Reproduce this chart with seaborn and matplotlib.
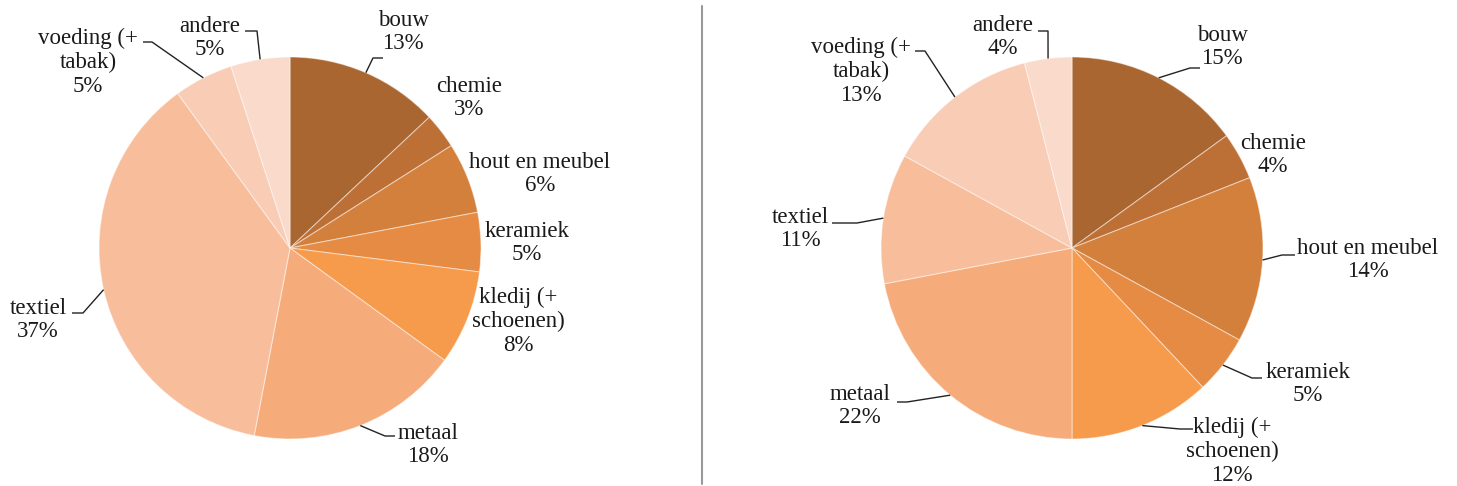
import numpy as np
import matplotlib
matplotlib.use("Agg")
import matplotlib.pyplot as plt
import seaborn as sns

# data
categories = ['bouw', 'chemie', 'hout en meubel', 'keramiek', 'kledij (+\nschoenen)',
              'metaal', 'textiel', 'voeding (+\ntabak)', 'andere']
left_values = [13, 3, 6, 5, 8, 18, 37, 5, 5]
right_values = [15, 4, 14, 5, 12, 22, 11, 13, 4]
colours = ['#A96630', '#BD7036', '#D2803C', '#E58B44', '#F69A4B',
           '#F6AB7B', '#F8BE9C', '#F8CCB5', '#FADACB']

# layout (pixel coords, y measured from the top)
W, H = 1457, 486
left_center, right_center = (290, 248), (1072, 248)
radius = 191
left_labels = [(403, 32), (469, 98), (540, 174), (527, 243), (518, 321),
               (428, 445), (38, 320), (88, 62), (210, 38)]
right_labels = [(1222, 47), (1273, 155), (1368, 260), (1308, 384), (1232, 451),
                (860, 406), (800, 229), (861, 71), (1003, 37)]
# leader: (start, elbow) near the label, None = no leader
left_leaders = [((383, 58), (373, 58)), None, None, None, None,
                ((395, 436), (385, 436)), ((72, 313), (83, 313)),
                ((143, 42), (152, 42)), ((245, 31), (257, 31))]
right_leaders = [((1200, 68), (1190, 68)), None, ((1295, 255), (1282, 255)),
                 ((1262, 378), (1252, 378)), ((1193, 429), (1180, 429)),
                 ((897, 402), (907, 402)), ((832, 223), (857, 223)),
                 ((915, 51), (925, 51)), ((1038, 31), (1048, 31))]

sns.set_theme(style="white")
plt.rcParams['font.family'] = ['Liberation Serif', 'DejaVu Serif']

fig = plt.figure(figsize=(W / 100, H / 100), dpi=100)
ax = fig.add_axes([0, 0, 1, 1])


def flip(p):
    return (p[0], H - p[1])


def draw_pie(values, center, labels, leaders):
    c = flip(center)
    ax.pie(values, colors=colours, startangle=90, counterclock=False,
           center=c, radius=radius,
           wedgeprops=dict(edgecolor=(1, 1, 1, 0.45), linewidth=0.8))
    total = float(sum(values))
    cum = np.cumsum([0] + list(values))
    for i, (name, v) in enumerate(zip(categories, values)):
        txt = f"{name}\n{v}%"
        ax.text(*flip(labels[i]), txt, ha='center', va='center', fontsize=16.5,
                color='#1a1a1a', linespacing=1.18)
        if leaders[i] is not None:
            mid = (cum[i] + v / 2) / total * 2 * np.pi
            edge = (c[0] + radius * np.sin(mid), c[1] + radius * np.cos(mid))
            s, e = flip(leaders[i][0]), flip(leaders[i][1])
            ax.plot([s[0], e[0], edge[0]], [s[1], e[1], edge[1]],
                    color='#222222', lw=1.0, solid_capstyle='butt')


draw_pie(left_values, left_center, left_labels, left_leaders)
draw_pie(right_values, right_center, right_labels, right_leaders)

# divider
ax.plot([702, 702], [H - 6, H - 484], color='#999999', lw=1.5)

ax.set_xlim(0, W)
ax.set_ylim(0, H)
ax.set_aspect('auto')
ax.axis('off')

fig.savefig('out.png', dpi=100, facecolor='white')
